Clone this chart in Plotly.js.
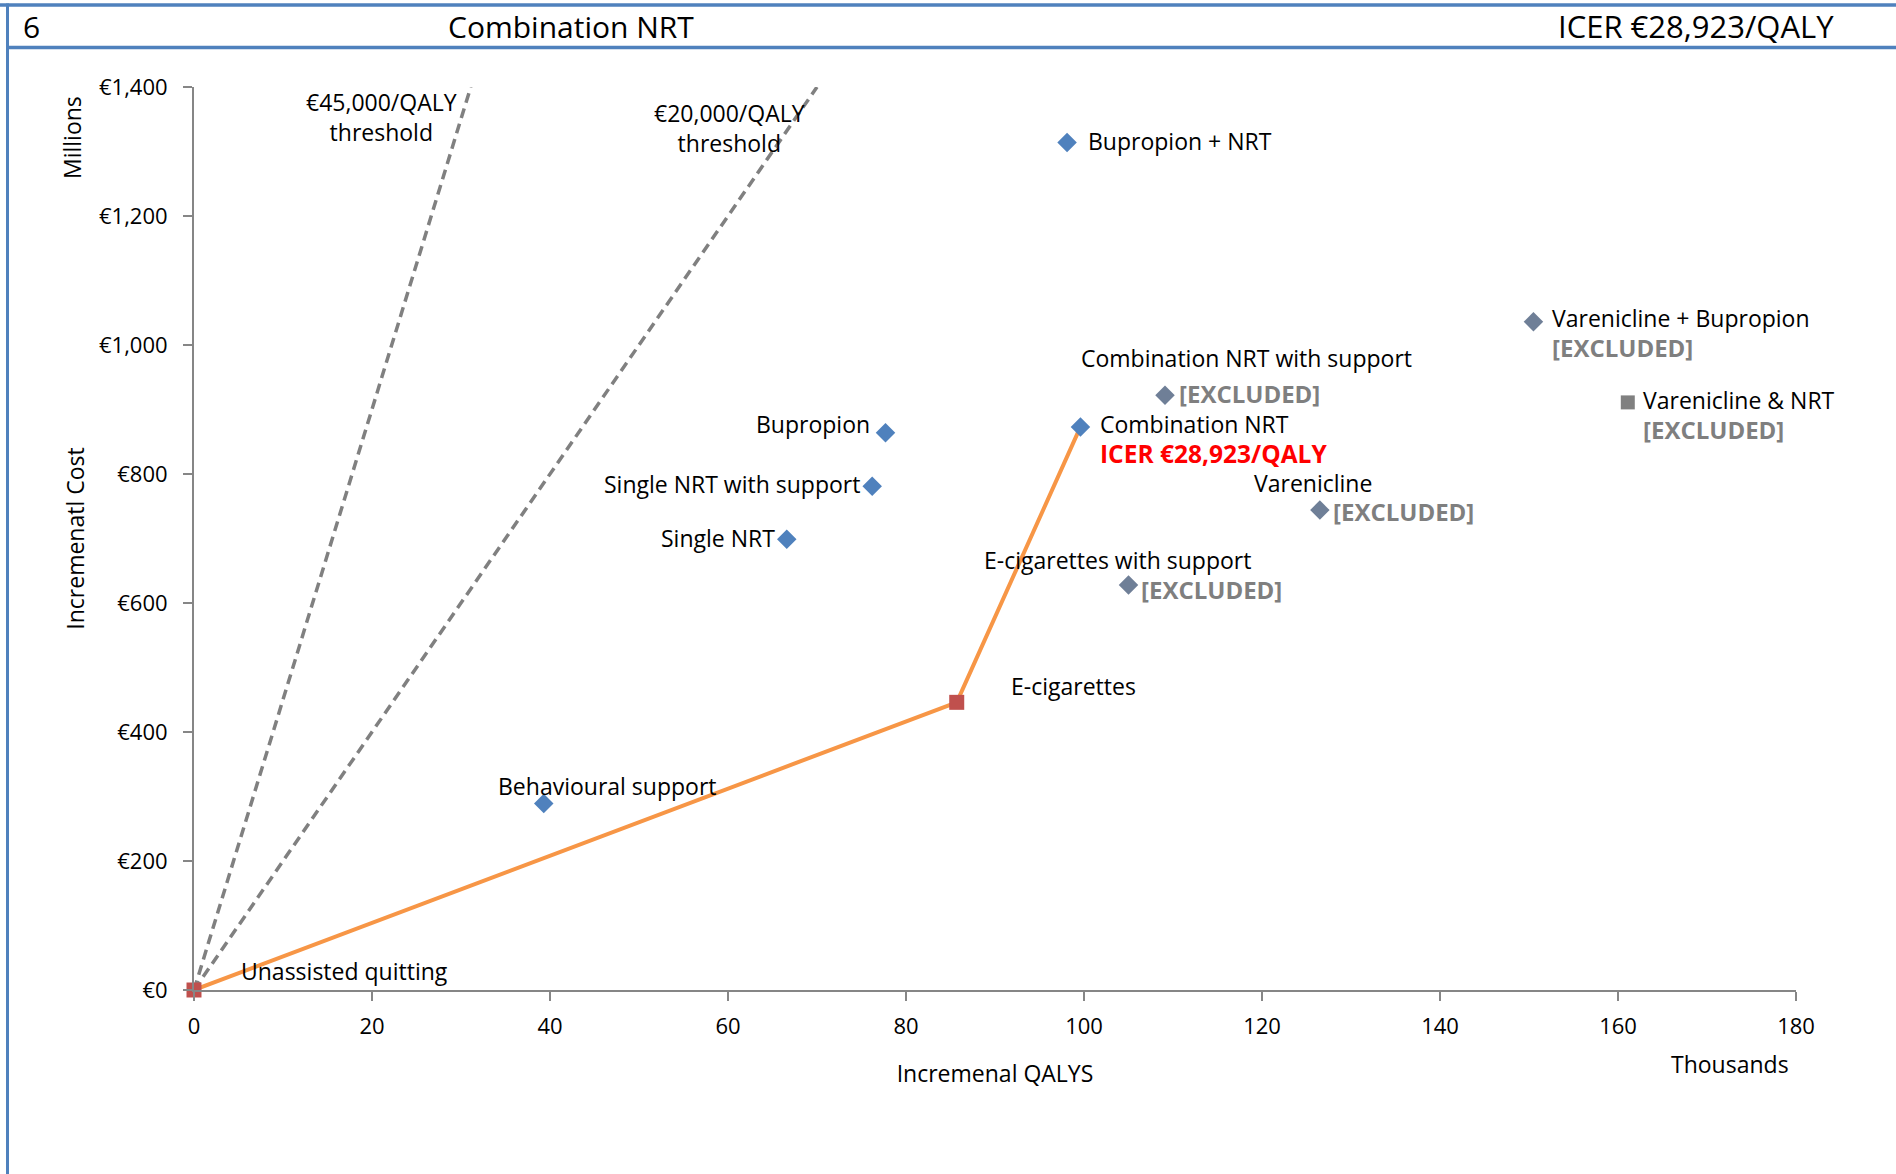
<!DOCTYPE html>
<html>
<head>
<meta charset="utf-8">
<script src="https://cdn.plot.ly/plotly-3.0.1.min.js"></script>
<style>html,body{margin:0;padding:0;background:#fff;}#chart{width:1896px;height:1174px;}</style>
</head>
<body>
<div id="chart"></div>
<script>
// ---------- DATA ----------
// Incremental QALYs (thousands) and incremental cost (€ millions)
const frontierX = [0, 85.7, 99.6];
const frontierY = [0, 446, 873];

const thr45X = [0, 31.1];
const thr45Y = [0, 1400];
const thr20X = [0, 70.0];
const thr20Y = [0, 1400];

const frontierNames = ["Unassisted quitting", "E-cigarettes"];
const frontierPtX = [0, 85.7];
const frontierPtY = [0, 446];

const includedNames = ["Behavioural support", "Single NRT", "Single NRT with support", "Bupropion", "Combination NRT", "Bupropion + NRT"];
const includedX = [39.3, 66.6, 76.2, 77.7, 99.6, 98.1];
const includedY = [289, 699, 781, 864, 873, 1314];

const excludedNames = ["Combination NRT with support", "E-cigarettes with support", "Varenicline", "Varenicline + Bupropion"];
const excludedX = [109.1, 105.0, 126.5, 150.5];
const excludedY = [922, 628, 744, 1036];

const excludedSqNames = ["Varenicline & NRT"];
const excludedSqX = [161.1];
const excludedSqY = [911];

const xTickVals = [0, 20, 40, 60, 80, 100, 120, 140, 160, 180];
const yTickVals = [0, 200, 400, 600, 800, 1000, 1200, 1400];
const yTickText = ["€0", "€200", "€400", "€600", "€800", "€1,000", "€1,200", "€1,400"];

const headerNumber = "6";
const headerTitle = "Combination NRT";
const headerICER = "ICER €28,923/QALY";
const excludedTag = "[EXCLUDED]";

// ---------- STYLE / LAYOUT ----------
const FONT = "Open Sans, Noto Sans, DejaVu Sans, sans-serif";
const LBL = 23, EXC = 24, TICK = 22, HDR = 30;
const M = {l: 194, r: 100, t: 87, b: 184};
const PW = 1896 - M.l - M.r, PH = 1174 - M.t - M.b;
const px = v => (v - M.l) / PW;
const py = v => (1174 - M.b - v) / PH;

const BLUE = "#4F81BD", RED = "#C0504D", ORANGE = "#F79646", GREYLINE = "#808080";
const EXCL_MARK = "#6F7F97", EXCL_TXT = "#7F7F7F";

const tagHTML = '<span style="color:' + EXCL_TXT + ';font-size:' + EXC + 'px"><b>' + excludedTag + '</b></span>';
const icerHTML = '<span style="color:#FF0000;font-size:24.5px"><b>' + headerICER + '</b></span>';

// label offsets in pixels relative to each point: [xanchor, xshift, yshift]
const labelPos = {
  "Unassisted quitting": ["left", 46, 19],
  "E-cigarettes": ["left", 53, 16],
  "Behavioural support": ["left", -47, 18],
  "Single NRT": ["right", -11, 1],
  "Single NRT with support": ["right", -11, 2],
  "Bupropion": ["right", -15, 9],
  "Combination NRT": ["left", 19, -12],
  "Bupropion + NRT": ["left", 20, 1],
  "Combination NRT with support": ["left", -85, 37],
  "E-cigarettes with support": ["left", -146, 25],
  "Varenicline": ["left", -67, 27],
  "Varenicline + Bupropion": ["left", 18, -11],
  "Varenicline & NRT": ["left", 14, -13]
};
// separate [EXCLUDED] tags (for labels where the tag sits apart from the name)
const excludedTagPos = {
  "Combination NRT with support": [13, 2],
  "E-cigarettes with support": [11, -5],
  "Varenicline": [12, -1]
};
// labels whose second line is stacked directly beneath the name
const stackedSecond = {
  "Combination NRT": icerHTML,
  "Varenicline + Bupropion": tagHTML,
  "Varenicline & NRT": tagHTML
};

const traces = [
  {x: thr45X, y: thr45Y, mode: "lines", line: {color: GREYLINE, width: 3.5, dash: "10px,6px"}, hoverinfo: "skip", showlegend: false},
  {x: thr20X, y: thr20Y, mode: "lines", line: {color: GREYLINE, width: 3.5, dash: "10px,6px"}, hoverinfo: "skip", showlegend: false},
  {x: frontierX, y: frontierY, mode: "lines", line: {color: ORANGE, width: 4}, showlegend: false},
  {x: frontierPtX, y: frontierPtY, text: frontierNames, mode: "markers", marker: {symbol: "square", size: 15, color: RED}, showlegend: false, cliponaxis: false},
  {x: includedX, y: includedY, text: includedNames, mode: "markers", marker: {symbol: "diamond", size: 15, color: BLUE}, showlegend: false, cliponaxis: false},
  {x: excludedX, y: excludedY, text: excludedNames, mode: "markers", marker: {symbol: "diamond", size: 15, color: EXCL_MARK}, showlegend: false, cliponaxis: false},
  {x: excludedSqX, y: excludedSqY, text: excludedSqNames, mode: "markers", marker: {symbol: "square", size: 14, color: GREYLINE}, showlegend: false, cliponaxis: false}
];

const annotations = [];
function addLabels(names, xs, ys) {
  names.forEach((n, i) => {
    const p = labelPos[n];
    const txt = stackedSecond[n] ? n + "<br>" + stackedSecond[n] : n;
    annotations.push({x: xs[i], y: ys[i], xref: "x", yref: "y", text: txt, showarrow: false,
      xanchor: p[0], yanchor: "middle", align: "left", xshift: p[1], yshift: p[2], borderpad: 0,
      font: {family: FONT, size: LBL, color: "#000"}});
    const t = excludedTagPos[n];
    if (t) {
      annotations.push({x: xs[i], y: ys[i], xref: "x", yref: "y", text: "<b>" + excludedTag + "</b>", showarrow: false,
        xanchor: "left", yanchor: "middle", xshift: t[0], yshift: t[1], borderpad: 0,
        font: {family: FONT, size: EXC, color: EXCL_TXT}});
    }
  });
}
addLabels(frontierNames, frontierPtX, frontierPtY);
addLabels(includedNames, includedX, includedY);
addLabels(excludedNames, excludedX, excludedY);
addLabels(excludedSqNames, excludedSqX, excludedSqY);

// threshold labels
annotations.push({x: thr45X[1], y: thr45Y[1], xref: "x", yref: "y", text: "€45,000/QALY<br>threshold", showarrow: false,
  xanchor: "center", yanchor: "middle", align: "center", xshift: -89, yshift: -30, font: {family: FONT, size: LBL, color: "#000"}});
annotations.push({x: thr20X[1], y: thr20Y[1], xref: "x", yref: "y", text: "€20,000/QALY<br>threshold", showarrow: false,
  xanchor: "center", yanchor: "middle", align: "center", xshift: -88, yshift: -41, font: {family: FONT, size: LBL, color: "#000"}});

// axis unit labels
annotations.push({x: px(72), y: py(137), xref: "paper", yref: "paper", text: "Millions", textangle: -90, showarrow: false,
  xanchor: "center", yanchor: "middle", font: {family: FONT, size: LBL, color: "#000"}});
annotations.push({x: px(1730), y: py(1064), xref: "paper", yref: "paper", text: "Thousands", showarrow: false,
  xanchor: "center", yanchor: "middle", font: {family: FONT, size: LBL, color: "#000"}});

// header
annotations.push({x: px(21), y: py(26), xref: "paper", yref: "paper", text: headerNumber, showarrow: false,
  xanchor: "left", yanchor: "middle", font: {family: FONT, size: HDR, color: "#000"}});
annotations.push({x: px(571), y: py(26), xref: "paper", yref: "paper", text: headerTitle, showarrow: false,
  xanchor: "center", yanchor: "middle", font: {family: FONT, size: HDR, color: "#000"}});
annotations.push({x: px(1836), y: py(26), xref: "paper", yref: "paper", text: headerICER, showarrow: false,
  xanchor: "right", yanchor: "middle", font: {family: FONT, size: 31, color: "#000"}});

const shapes = [
  {type: "line", xref: "paper", yref: "paper", x0: px(0), x1: px(1896), y0: py(5), y1: py(5), line: {color: BLUE, width: 3.5}},
  {type: "line", xref: "paper", yref: "paper", x0: px(7), x1: px(1896), y0: py(47.5), y1: py(47.5), line: {color: BLUE, width: 3.5}},
  {type: "line", xref: "paper", yref: "paper", x0: px(7.5), x1: px(7.5), y0: py(3.5), y1: py(1174), line: {color: BLUE, width: 3}}
];

const layout = {
  width: 1896, height: 1174,
  margin: M,
  paper_bgcolor: "#fff", plot_bgcolor: "#fff",
  font: {family: FONT, color: "#000"},
  showlegend: false,
  xaxis: {
    range: [0, 180], tickvals: xTickVals, showgrid: false, zeroline: false,
    showline: true, linecolor: "#868686", linewidth: 2,
    ticks: "outside", ticklen: 9, tickwidth: 1.5, tickcolor: "#868686",
    tickfont: {family: FONT, size: TICK, color: "#000"}, ticklabelstandoff: 7,
    title: {text: "Incremenal QALYS", font: {family: FONT, size: LBL, color: "#000"}, standoff: 26},
    fixedrange: true
  },
  yaxis: {
    range: [0, 1400], tickvals: yTickVals, ticktext: yTickText, showgrid: false, zeroline: false,
    showline: true, linecolor: "#868686", linewidth: 2,
    ticks: "outside", ticklen: 9, tickwidth: 1.5, tickcolor: "#868686",
    tickfont: {family: FONT, size: TICK, color: "#000"}, ticklabelstandoff: 11,
    title: {text: "Incremenatl Cost", font: {family: FONT, size: LBL, color: "#000"}, standoff: 8},
    fixedrange: true
  },
  annotations: annotations,
  shapes: shapes
};

Plotly.newPlot("chart", traces, layout, {displayModeBar: false, staticPlot: true});
</script>
</body>
</html>
